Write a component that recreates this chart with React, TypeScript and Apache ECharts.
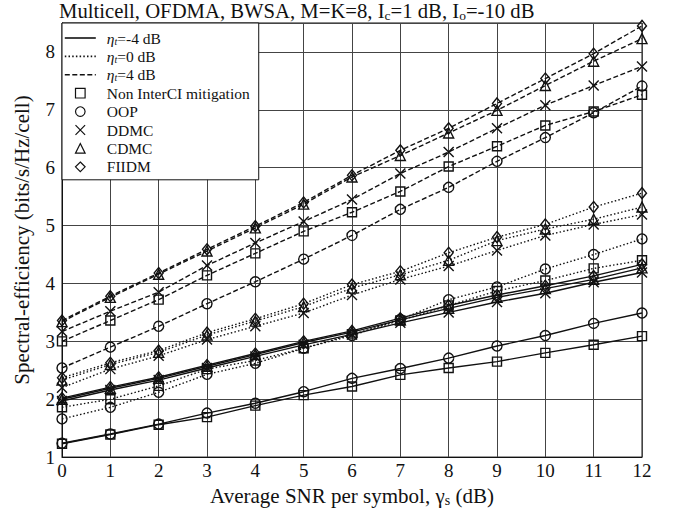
import React, { useEffect, useRef } from 'react';
import * as echarts from 'echarts';

const snr = [0, 1, 2, 3, 4, 5, 6, 7, 8, 9, 10, 11, 12];

// eta_t = 4 dB (dashed)
const d4Fiidm = [3.36, 3.78, 4.18, 4.59, 4.99, 5.4, 5.87, 6.3, 6.68, 7.11, 7.54, 7.97, 8.45];
const d4Cdmc = [3.34, 3.76, 4.16, 4.56, 4.96, 5.37, 5.84, 6.21, 6.6, 6.99, 7.42, 7.84, 8.23];
const d4Ddmc = [3.17, 3.52, 3.85, 4.31, 4.7, 5.07, 5.45, 5.9, 6.27, 6.68, 7.08, 7.42, 7.75];
const d4Non = [3.0, 3.36, 3.72, 4.14, 4.52, 4.9, 5.23, 5.59, 6.02, 6.37, 6.73, 6.97, 7.26];
const d4Oop = [2.54, 2.9, 3.26, 3.65, 4.03, 4.42, 4.83, 5.28, 5.66, 6.11, 6.52, 6.95, 7.41];

// eta_t = 0 dB (dotted)
const d0Fiidm = [2.37, 2.63, 2.84, 3.15, 3.39, 3.65, 3.98, 4.21, 4.53, 4.8, 5.02, 5.32, 5.56];
const d0Cdmc = [2.33, 2.6, 2.81, 3.11, 3.35, 3.6, 3.92, 4.15, 4.4, 4.74, 4.94, 5.11, 5.32];
const d0Ddmc = [2.2, 2.52, 2.75, 3.03, 3.26, 3.49, 3.8, 4.07, 4.3, 4.57, 4.83, 5.02, 5.19];
const d0Non = [1.86, 2.0, 2.23, 2.52, 2.67, 2.88, 3.12, 3.36, 3.62, 3.87, 4.05, 4.26, 4.4];
const d0Oop = [1.66, 1.86, 2.12, 2.43, 2.62, 2.88, 3.1, 3.38, 3.72, 3.94, 4.25, 4.5, 4.77];

// eta_t = -4 dB (solid)
const dm4Fiidm = [2.02, 2.21, 2.38, 2.59, 2.79, 3.0, 3.18, 3.4, 3.62, 3.8, 3.96, 4.13, 4.33];
const dm4Cdmc = [2.0, 2.19, 2.36, 2.57, 2.77, 2.98, 3.16, 3.37, 3.57, 3.76, 3.91, 4.07, 4.27];
const dm4Ddmc = [1.97, 2.16, 2.33, 2.54, 2.74, 2.94, 3.12, 3.32, 3.5, 3.68, 3.83, 4.02, 4.19];
const dm4Non = [1.23, 1.39, 1.56, 1.69, 1.89, 2.07, 2.22, 2.42, 2.54, 2.65, 2.8, 2.94, 3.09];
const dm4Oop = [1.24, 1.4, 1.57, 1.76, 1.93, 2.13, 2.36, 2.53, 2.71, 2.92, 3.1, 3.31, 3.49];

const etaNames = ['eta-4', 'eta0', 'eta4'];
const etaTexts = ['-4 dB', '0 dB', '4 dB'];
const methodNames = ['Non InterCI mitigation', 'OOP', 'DDMC', 'CDMC', 'FIIDM'];

const FONT = 'Liberation Serif';
const INK = '#111';

const dashTypes: any[] = ['solid', [1.5, 2.2], [5, 2.5]];
const methodSymbols: any[] = ['rect', 'circle', 'path://M0,0L10,10M10,0L0,10', 'triangle', 'diamond'];
const methodSizes: any[] = [9, 10, 10, [10, 10], [9, 11]];

const groups = [
  { eta: 0, data: [dm4Non, dm4Oop, dm4Ddmc, dm4Cdmc, dm4Fiidm] },
  { eta: 1, data: [d0Non, d0Oop, d0Ddmc, d0Cdmc, d0Fiidm] },
  { eta: 2, data: [d4Non, d4Oop, d4Ddmc, d4Cdmc, d4Fiidm] },
];

function buildOption() {
  const series: any[] = [];
  groups.forEach((g) => {
    g.data.forEach((vals, mi) => {
      series.push({
        type: 'line',
        name: `s${g.eta}_${mi}`,
        data: snr.map((x, i) => [x, vals[i]]),
        symbol: methodSymbols[mi],
        symbolSize: methodSizes[mi],
        showSymbol: true,
        lineStyle: { color: INK, width: 1.4, type: dashTypes[g.eta] },
        itemStyle: { color: 'rgba(0,0,0,0)', borderColor: INK, borderWidth: 1.4 },
        z: 3,
      });
    });
  });
  // legend-only series
  etaNames.forEach((n, i) => {
    series.push({
      type: 'line',
      name: n,
      data: [],
      symbol: 'none',
      lineStyle: { color: INK, width: 1.5, type: dashTypes[i] },
    });
  });
  methodNames.forEach((n, i) => {
    series.push({
      type: 'line',
      name: n,
      data: [],
      symbol: methodSymbols[i],
      lineStyle: { width: 0, opacity: 0 },
      itemStyle: { color: 'rgba(0,0,0,0)', borderColor: INK, borderWidth: 1.2 },
    });
  });

  const legendData: any[] = [
    ...etaNames.map((n, i) => ({
      name: n,
      itemStyle: { opacity: 0 },
      lineStyle: { color: INK, width: 1.6, type: dashTypes[i], opacity: 1 },
    })),
    ...methodNames.map((n) => ({
      name: n,
      itemStyle: { color: 'rgba(0,0,0,0)', borderColor: INK, borderWidth: 1.2, opacity: 1 },
      lineStyle: { width: 0, opacity: 0 },
    })),
  ];

  return {
    animation: false,
    backgroundColor: '#fff',
    title: {
      text: 'Multicell, OFDMA, BWSA, M=K=8, I{sb|c}=1 dB, I{sb|o}=-10 dB',
      left: 59,
      top: 0,
      padding: 0,
      textStyle: {
        fontFamily: FONT,
        fontSize: 20.7,
        fontWeight: 'normal',
        color: INK,
        lineHeight: 22,
        rich: {
          sb: { fontFamily: FONT, fontSize: 13.5, lineHeight: 10, verticalAlign: 'bottom', color: INK },
        },
      },
    },
    legend: {
      orient: 'vertical',
      left: 62,
      top: 23,
      itemWidth: 31,
      itemHeight: 12,
      itemGap: 2.4,
      padding: [7, 9, 5, 2],
      backgroundColor: '#fff',
      borderColor: INK,
      borderWidth: 1,
      borderRadius: 0,
      selectedMode: false,
      data: legendData,
      formatter: (name: string) => {
        const ei = etaNames.indexOf(name);
        if (ei >= 0) return `{sp|}{gi|η}{sb|t}=${etaTexts[ei]}`;
        return `{sp|}${name}`;
      },
      textStyle: {
        fontFamily: FONT,
        fontSize: 15.5,
        color: INK,
        lineHeight: 16,
        rich: {
          sp: { width: 6 },
          gi: { fontFamily: FONT, fontSize: 15.5, fontStyle: 'italic', lineHeight: 16, color: INK },
          sb: { fontFamily: FONT, fontSize: 10, fontStyle: 'italic', lineHeight: 8, verticalAlign: 'bottom', color: INK },
        },
      },
      z: 10,
    },
    grid: {
      left: 62,
      right: 32,
      top: 23,
      bottom: 54,
      show: true,
      borderColor: INK,
      borderWidth: 1,
      backgroundColor: 'transparent',
    },
    xAxis: {
      type: 'value',
      min: 0,
      max: 12,
      interval: 1,
      name: 'Average SNR per symbol, γ{sb|s} (dB)',
      nameLocation: 'middle',
      nameGap: 24,
      nameTextStyle: {
        fontFamily: FONT,
        fontSize: 21,
        color: INK,
        lineHeight: 22,
        rich: { sb: { fontFamily: FONT, fontSize: 14, lineHeight: 10, verticalAlign: 'bottom', color: INK } },
      },
      axisLine: { show: true, lineStyle: { color: INK, width: 1 } },
      axisTick: { show: false },
      axisLabel: { fontFamily: FONT, fontSize: 19, color: INK, margin: 4 },
      splitLine: { show: true, lineStyle: { color: '#444', width: 1 } },
    },
    yAxis: {
      type: 'value',
      min: 1,
      max: 8.5,
      interval: 1,
      name: 'Spectral-efficiency (bits/s/Hz/cell)',
      nameLocation: 'middle',
      nameGap: 30,
      nameTextStyle: { fontFamily: FONT, fontSize: 21, color: INK },
      axisLine: { show: true, lineStyle: { color: INK, width: 1 } },
      axisTick: { show: false },
      axisLabel: {
        fontFamily: FONT,
        fontSize: 19,
        color: INK,
        margin: 7,
        showMaxLabel: false,
        formatter: (v: number) => (Number.isInteger(v) ? String(v) : ''),
      },
      splitLine: { show: true, lineStyle: { color: '#444', width: 1 } },
    },
    series,
  };
}

export default function App() {
  const ref = useRef<HTMLDivElement>(null);
  useEffect(() => {
    if (!ref.current) return;
    const chart = echarts.init(ref.current, undefined, { renderer: 'svg' });
    chart.setOption(buildOption() as any);
    return () => chart.dispose();
  }, []);
  return (
    <div
      ref={ref}
      style={{ position: 'fixed', left: 0, top: 0, width: 674, height: 512, background: '#fff' }}
    />
  );
}
